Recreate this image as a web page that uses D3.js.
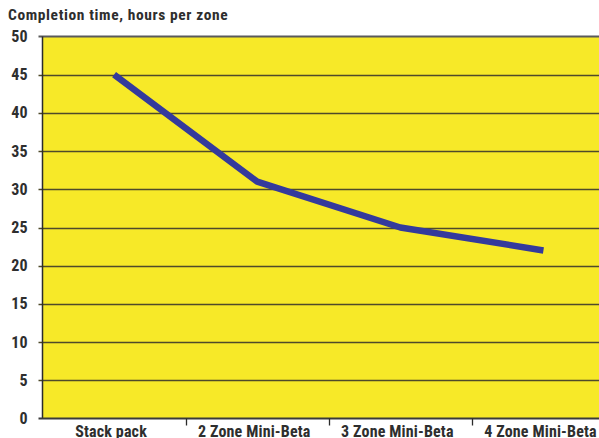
<!DOCTYPE html>
<html>
<head>
<meta charset="utf-8">
<script src="https://cdn.jsdelivr.net/npm/d3@7"></script>
<style>
  body { margin: 0; background: #fff; }
  text { font-family: "Liberation Sans Narrow", "Arial Narrow", "Roboto Condensed", sans-serif; font-weight: bold; fill: #2e2e2e; }
</style>
</head>
<body>
<div id="chart"></div>
<script>
// data
var categories = ["Stack pack", "2 Zone Mini-Beta", "3 Zone Mini-Beta", "4 Zone Mini-Beta"];
var hours = [45, 31, 25, 22];
var yTicks = [0, 5, 10, 15, 20, 25, 30, 35, 40, 45, 50];
var title = "Completion time, hours per zone";

var width = 599, height = 438;
var plotLeft = 42.5, plotRight = 615, plotTop = 36.5, plotBottom = 418.5;

var svg = d3.select("#chart").append("svg")
    .attr("width", width)
    .attr("height", height);

var x = d3.scaleBand()
    .domain(categories)
    .range([plotLeft, plotRight])
    .paddingInner(0)
    .paddingOuter(0);

var y = d3.scaleLinear()
    .domain([0, 50])
    .range([plotBottom, plotTop]);

// plot background
svg.append("rect")
    .attr("x", plotLeft)
    .attr("y", plotTop)
    .attr("width", plotRight - plotLeft)
    .attr("height", plotBottom - plotTop)
    .attr("fill", "#f7e928");

// gridlines
svg.append("g")
  .selectAll("line")
  .data(yTicks.filter(function(d) { return d > 0 && d < 50; }))
  .enter()
  .append("line")
    .attr("x1", plotLeft - 4)
    .attr("x2", plotRight)
    .attr("y1", function(d) { return Math.round(y(d)) + 0.5; })
    .attr("y2", function(d) { return Math.round(y(d)) + 0.5; })
    .attr("stroke", "#4e4a2a")
    .attr("stroke-width", 1.3);

// top border
svg.append("line")
    .attr("x1", plotLeft - 4).attr("x2", plotRight)
    .attr("y1", y(50)).attr("y2", y(50))
    .attr("stroke", "#5a5a5a")
    .attr("stroke-width", 2);

// y axis
svg.append("line")
    .attr("x1", plotLeft).attr("x2", plotLeft)
    .attr("y1", plotTop).attr("y2", plotBottom)
    .attr("stroke", "#2b2b2b")
    .attr("stroke-width", 1.5);

// x axis
svg.append("line")
    .attr("x1", plotLeft - 4).attr("x2", plotRight)
    .attr("y1", y(0)).attr("y2", y(0))
    .attr("stroke", "#3a3a3a")
    .attr("stroke-width", 2);

// category separator ticks
svg.append("g")
  .selectAll("line")
  .data(categories.slice(1))
  .enter()
  .append("line")
    .attr("x1", function(d) { return Math.round(x(d)) + 0.5; })
    .attr("x2", function(d) { return Math.round(x(d)) + 0.5; })
    .attr("y1", plotBottom)
    .attr("y2", plotBottom + 7)
    .attr("stroke", "#2b2b2b")
    .attr("stroke-width", 1.3);

// y tick labels
svg.append("g")
  .selectAll("text")
  .data(yTicks)
  .enter()
  .append("text")
    .attr("x", 28)
    .attr("y", function(d) { return y(d) + 5.5; })
    .attr("text-anchor", "end")
    .style("font-size", "16px")
    .style("letter-spacing", "0.3px")
    .text(function(d) { return d; });

// category labels
svg.append("g")
  .selectAll("text")
  .data(categories)
  .enter()
  .append("text")
    .attr("x", function(d) { return x(d) + x.bandwidth() / 2 - 3; })
    .attr("y", 436.5)
    .attr("text-anchor", "middle")
    .style("font-size", "16px")
    .style("letter-spacing", "0.15px")
    .text(function(d) { return d; });

// title
svg.append("text")
    .attr("x", 8)
    .attr("y", 20)
    .style("font-size", "15.5px")
    .style("letter-spacing", "0.6px")
    .text(title);

// the line
var line = d3.line()
    .x(function(d, i) { return x(categories[i]) + x.bandwidth() / 2; })
    .y(function(d) { return y(d); });

svg.append("path")
    .datum(hours)
    .attr("d", line)
    .attr("fill", "none")
    .attr("stroke", "#343a9c")
    .attr("stroke-width", 6.5)
    .attr("stroke-linejoin", "round")
    .attr("stroke-linecap", "butt");
</script>
</body>
</html>
